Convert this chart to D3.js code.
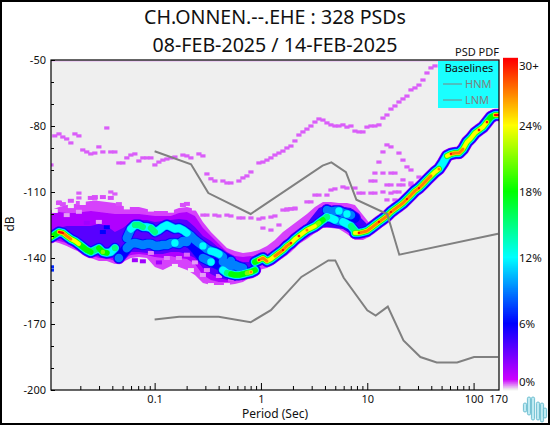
<!DOCTYPE html>
<html>
<head>
<meta charset="utf-8">
<script src="https://cdn.jsdelivr.net/npm/d3@7"></script>
<style>
html,body{margin:0;padding:0;background:#fff;overflow:hidden}
svg{display:block}
text{font-family:"Noto Sans",sans-serif;fill:#111}
</style>
</head>
<body>
<svg id="c" width="550" height="425"></svg>
<script>
const titleLines = ["CH.ONNEN.--.EHE : 328 PSDs", "08-FEB-2025 / 14-FEB-2025"];
const majorPeriods = [0.1, 1, 10, 100, 170];
const minorPeriods = [0.02,0.03,0.04,0.05,0.06,0.07,0.08,0.09,0.2,0.3,0.4,0.5,0.6,0.7,0.8,0.9,2,3,4,5,6,7,8,9,20,30,40,50,60,70,80,90];
const majorDb = [-50,-80,-110,-140,-170,-200];
const minorDb = [-60,-70,-90,-100,-120,-130,-150,-160,-180,-190];
const barTicks = [0,6,12,18,24,30];
const barTickLabels = ["0%","6%","12%","18%","24%","30+"];

// noise models
const hnmPeriod = [0.1,0.22,0.32,0.8,3.8,4.6,6.3,7.9,15.4,20,170];
const hnmDb = [-91.5,-97.4,-110.5,-120,-98,-96.5,-101,-113.5,-120,-138.5,-129];
const lnmPeriod = [0.1,0.17,0.4,0.8,1.24,2.4,4.3,5,6,10,12,15.6,21.9,31.6,45,70,101,170];
const lnmDb = [-168,-166.7,-166.7,-169.2,-163.7,-148.6,-141.1,-141.1,-149,-163.8,-166.2,-162.1,-177.5,-185,-187.5,-187.5,-185,-185];

// period bins of the PDF
const periodBins = [
0.0106,0.0115,0.0126,0.0137,0.0149,0.0163,0.0178,0.0194,0.0211,0.0230,
0.0251,0.0274,0.0299,0.0326,0.0355,0.0387,0.0423,0.0461,0.0503,0.0548,
0.0598,0.0652,0.0711,0.0775,0.0846,0.0923,0.1006,0.1097,0.1196,0.1304,
0.1423,0.1552,0.1692,0.1845,0.2012,0.2194,0.2393,0.2610,0.2846,0.3104,
0.3385,0.3691,0.4025,0.4389,0.4787,0.5220,0.5693,0.6208,0.6770,0.7383,
0.8051,0.8780,0.9574,1.044,1.139,1.242,1.354,1.477,1.610,1.756,
1.915,2.088,2.277,2.483,2.708,2.953,3.221,3.512,3.830,4.177,
4.555,4.967,5.417,5.907,6.442,7.025,7.661,8.354,9.110,9.935,
10.83,11.81,12.88,14.05,15.32,16.71,18.22,19.87,21.67,23.63,
25.77,28.10,30.64,33.41,36.44,39.74,43.34,47.26,51.54,56.20,
61.29,66.84,72.89,79.49,86.68,94.53,103.1,112.4,122.6,133.7,
145.8,159.0,173.4];

// sparse low-probability hits: bin index and dB
const speckBin = [0,1,2,3,4,5,6,7,8,9,10,11,12,13,15,16,14,17,18,19,20,21,22,23,24,25,26,27,28,29,30,31,33,34,35,37,38,
39,40,41,43,44,45,47,48,49,50,52,53,54,55,56,57,58,59,60,61,62,63,64,65,66,67,68,69,70,71,72,73,74,75,76,77,78,79,80,81,82,83,84,85,86,87,88,89,90,91,92,93,94,95,96,
84,85,83,87,82,88,89,90,92,81,83,85,86,80,81,84,85,87,88,90,
77,78,80,81,70,71,73,74,76,66,67,69,83,85,86,87,84,86,64,65,59,60,61,88,90,
38,39,41,42,44,45,47,48,50,52,53,55,56,53,55,57,58,59,60,61,
7,7,15,16,11,2];
const speckDb = [-97.7,-84.5,-83.6,-85,-85.9,-87.7,-83.6,-84.5,-90.9,-91.8,-92.7,-92.3,-89.5,-91.8,-91.8,-91.8,-80.9,-96.8,-96.8,-94.5,-93.2,-92.7,-95.9,-94.5,-94.5,-94.5,-97.7,-96.4,-95.5,-95,-94.5,-94.1,-93.2,-93.6,-94.5,-92.7,-93.6,
-101.8,-104,-105,-105,-105.9,-105.9,-105,-103.6,-102.7,-100.9,-96.8,-96.4,-95.5,-94.5,-93.2,-92.3,-91.4,-90,-89.1,-86.8,-84.1,-82.7,-81.4,-80,-78.2,-76.8,-77.3,-78.6,-79.5,-80,-80,-79.5,-80.5,-80,-82.3,-82.7,-82.7,-80.5,-80,-80,-79.5,-76.4,-75,-72.3,-70.9,-69.1,-67.7,-66.4,-63.6,-62.7,-61.4,-59.1,-55.9,-53.6,-52.7,
-88.6,-89.5,-91.8,-92.3,-96.4,-95.5,-98.6,-100,-103.2,-101.4,-101.4,-101.4,-101.4,-105,-105,-106.8,-106.8,-106.8,-106.8,-106.8,
-110.5,-110.5,-110.5,-110.5,-109.1,-108.6,-107.7,-108.2,-108.2,-111.4,-111.4,-111.4,-110,-110.5,-110,-110,-113.6,-113.6,-114.5,-114.5,-117.7,-117.7,-117.3,-104.5,-105.9,
-120.5,-120.5,-120.5,-120.9,-120.5,-120.9,-121.8,-121.8,-121.8,-122.3,-121.8,-121.4,-120.9,-126.4,-127.3,-125,-118.2,-118.2,-117.7,-117.7,
-110.5,-112.7,-110,-110.9,-113.2,-114.5];
const edgeBin = [0,0];
const edgeDb = [-144,-145.5];

// PDF envelopes: bins, upper dB, lower dB
const outerBins = [0,2,4,6,8,10,12,14,16,18,20,22,24,26,28,30,32,34,36,38,40,42,44,46,48,50,52,54,56,58,60,62,64,66,68,70,72,74,76,78,80];
const outerTop = [-118.2,-116.8,-115.9,-115.5,-114.5,-114.1,-114.1,-114.5,-115,-116.4,-116.8,-116.8,-117.7,-118.6,-118.6,-118.6,-117.3,-116.8,-117.7,-123.6,-128.2,-131.8,-135.5,-136.8,-137.7,-137.3,-136.4,-134.5,-131.8,-128.2,-125.5,-122.7,-120,-116.8,-114.5,-114.5,-115,-115,-115.9,-120.5,-125];
const outerBottom = [-132.3,-133.2,-134.5,-136.4,-137.7,-140,-141.4,-141.4,-142.7,-141.8,-140,-139.5,-140,-144.1,-145.5,-143.6,-144.1,-145.5,-147.7,-151.4,-152.3,-152.3,-152.3,-151.8,-150.9,-148.6,-145.5,-144.5,-141.8,-140,-137.3,-133.6,-131.4,-128.6,-126.4,-126.4,-126.8,-129.1,-131.8,-131.8,-130];
const outerPct = 0.65;

const purpleBins = [0,2,4,6,8,10,12,14,16,18,20,22,24,26,28,30,32,34,36,38,40,42,44,46,48,50,52];
const purpleTop = [-120,-119.1,-119.5,-119.5,-119.1,-118.6,-119.1,-119.5,-120,-120,-120,-120,-120.5,-120.9,-120.9,-120.9,-119.5,-119.1,-120.9,-126.4,-130,-133.6,-137.3,-139.1,-139.5,-139.1,-140];
const purpleBottom = [-131.8,-132.3,-133.2,-135,-136.4,-138.6,-140,-140,-141.4,-140.5,-138.6,-138.2,-138.6,-139.5,-140,-139.1,-140,-140.5,-142.7,-147.7,-150,-150.9,-150.9,-150.5,-149.5,-147.7,-143.6];
const purplePct = 1.6;

const blueBins = [2,4,6,8,10,12,14,16,18,20,22,24,26,28,30,32,34,36,38,40,42,44,46,48,50];
const blueTop = [-126.4,-125.5,-125.5,-125.5,-125.5,-124.5,-125.5,-128.2,-126.4,-123.6,-122.7,-122.7,-123.6,-123.2,-122.7,-122.3,-122.7,-125.9,-130,-132.3,-135.5,-140,-140.9,-141.8,-141.8];
const blueBottom = [-130.9,-132.3,-134.1,-135.9,-138.2,-139.1,-139.5,-140,-139.1,-137.3,-137.3,-137.7,-138.2,-138.2,-137.3,-137.3,-138.2,-140,-144.5,-147.3,-149.1,-150,-150,-149.1,-147.3];
const bluePct = 3.8;

const blobBins = [63,65,67,69,71,73,75,77,79];
const blobTop = [-126.4,-121.8,-117.3,-115.9,-116.8,-116.8,-117.3,-120.9,-124.5];
const blobBottom = [-130,-128.2,-126.4,-125.9,-126.4,-126.8,-129.1,-130.9,-130];
const blobPct = 4.5;

// mottling inside the envelopes: bin, dB, percent
const patchBin = [12,4,7,2,3,5,7,10,11,13,15,17,33,34,1,5,8,19,25,30,36,31,35,40,44,25,29,32,36,34,39,38,42,13,14,9,21,27,23,45,47];
const patchDb = [-123.6,-120.5,-119,-115,-115.5,-114,-115,-112.7,-112.3,-112.3,-112.7,-115.5,-115.9,-115.4,-118.6,-116.4,-115,-117,-118,-118.5,-117.5,-143.6,-145.5,-152.3,-152.3,-137.7,-140,-140,-142,-138.5,-145.5,-147.7,-148.2,-128.2,-126,-124,-141,-142,-141.5,-149.8,-149.4];
const patchPct = [0.3,0.3,0.3,0.6,0.6,0.6,0.6,0.6,0.6,0.6,0.6,0.6,0.6,0.6,0,0,0,0,0,0,0,0,0,0,0,0.4,0.4,0.4,0.3,0.5,0.4,0.3,0.4,6,6,2,2,2,2,0.6,0.6];

// ridges of the PDF: first bin, dB per bin, peak percent per bin
const ridgeAStart = 0;
const ridgeADb = [-130.5,-129.5,-128.2,-128.6,-130,-131.4,-132.3,-133.6,-135,-136.4,-137.3,-136.4,-135.5,-137.3,-137.7,-137.3,-135.5];
const ridgeAPct = [26,18,30,30,28,28,24,24,18,19,18,15,18,22,19,14,15];
const ridgeBStart = 19;
const ridgeBDb = [-130.9,-126.8,-125,-125,-125.9,-125.9,-126.4,-128.2,-127.3,-125.9,-125,-125.9,-126.8,-126.4,-127.3,-128.6,-130,-131.8,-133.2,-134.5,-135.9,-136.8,-137.3,-138.2,-139.5,-140.5,-141.4];
const ridgeBPct = [9,12,15,15,16,14,15,16,13,12,14,13,12,13,12,12,9,9,11,13,11,13,14,13,9,8,9];
const ridgeCStart = 17;
const ridgeCDb = [-140,-137.7,-135.5,-133.6,-133.2,-133.6,-134.1,-133.6,-133.6,-134.5,-134.5,-134.1,-134.1,-133.2,-133.2,-133.6,-132.3,-132.7,-133.6,-135.5,-137.7,-140,-140.9,-141.8,-142.3,-143.2];
const ridgeCPct = [9,8,9,10,11,10,11,10,11,9,9,11,11,11,12,11,10,9,8,8,8,9,11,12,8,8];
const ridgeD2Start = 43;
const ridgeD2Db = [-141.8,-142.7,-143.6,-143.2,-144.1,-144.5];
const ridgeD2Pct = [10,9,10,10,10,9];
const ridgeDStart = 43;
const ridgeDDb = [-145.5,-146.8,-147.3,-147.7,-147.7,-147.3,-146.8,-146.4,-145.5];
const ridgeDPct = [12,17,18,18,18,19,22,28,20];
const ridgeF2Start = 69;
const ridgeF2Db = [-118.2,-119.1,-118.6,-118.6,-119.5,-120,-120.5,-121.8];
const ridgeF2Pct = [9,10,11,12,11,12,10,8];
const ridgeFStart = 69;
const ridgeFDb = [-121.4,-121.8,-122.7,-123.2,-123.6,-124.5,-125.5,-127.7];
const ridgeFPct = [15,14,12,11,13,14,16,17];
const ridgeEStart = 51;
const ridgeEDb = [-141.8,-140.9,-140,-141.4,-140.5,-139.1,-137.7,-136.4,-134.5,-133.2,-131.4,-130,-128.6,-127.3,-126.4,-125.5,-124.1,-122.7,-121.4];
const ridgeEPct = [20,30,28,28,26,28,28,30,28,30,26,30,25,28,24,24,22,20,17];
const ridgeGStart = 76;
const ridgeGDb = [-128.6,-128.6,-128.2,-127.7,-126.4,-125,-123.6,-122.3,-120.9,-119.1,-117.7,-116.4,-115,-113.2,-111.4,-109.5,-108.2,-106.4,-104.5,-102.7,-100.9,-99.5,-96.8,-93.6,-92.7,-92.3,-92.3,-90.5,-87.3,-85.5,-83.2,-81.8,-80.5,-78.2,-75.9,-75,-75];
const ridgeGPct = [24,30,29,29,28,28,30,28,28,30,28,27,28,30,28,29,30,28,29,29,26,28,14,24,30,27,28,27,25,26,25,30,24,30,20,30,30];

const levels = [0.65,1.6,3.8,4.5,6,9,12,15,18,21,24,27,30];
const legendItems = ["HNM","LNM"];
const logoTop = [403,397,397,402,403,408];
const logoBottom = [412,415,420,420,422,418];
const logoX = [525,529,533,538,542,545];

/* ---------- drawing ---------- */
const W=550,H=425,L=51,R=499,T=60,B=390;
const svg=d3.select("#c");
const x=d3.scaleLog().domain([periodBins[0],periodBins[112]]).range([L,R]);
const y=d3.scaleLinear().domain([-50,-200]).range([T,B]);
const pctColor=d3.scaleLinear().domain([0,0.9,6,12,18,24,30])
  .range(["#efefef","#cc00ff","#0000ff","#00ffff","#00ff00","#ffff00","#ff0000"]).clamp(true);
const barY=d3.scaleLinear().domain([0,30]).range([B,T]);
const widthFor=d3.scaleOrdinal().domain(levels).range([12.5,12,11.5,11,10,8.6,7.4,6.2,5.5,4.6,3.8,3,2.2]);

svg.append("rect").attr("width",W).attr("height",H).attr("fill","#fff");
const defs=svg.append("defs");
defs.append("clipPath").attr("id","plot").append("rect").attr("x",L).attr("y",T).attr("width",R-L).attr("height",B-T);
defs.append("filter").attr("id","soft").attr("x","-5%").attr("y","-5%").attr("width","110%").attr("height","110%")
  .append("feGaussianBlur").attr("stdDeviation",0.7);

svg.append("rect").attr("x",L).attr("y",T).attr("width",R-L).attr("height",B-T).attr("fill","#efefef");

const plot=svg.append("g").attr("clip-path","url(#plot)");
plot.append("line").attr("x1",L).attr("x2",R).attr("y1",y(-50.5)).attr("y2",y(-50.5)).attr("stroke","#e6b8f2").attr("stroke-width",1);
const heat=plot.append("g").attr("filter","url(#soft)");

// sparse hits
heat.selectAll("rect.s").data(speckBin.map((b,i)=>({b,d:speckDb[i]}))).join("rect").attr("class","s")
  .attr("x",d=>x(periodBins[d.b])-2.6).attr("y",d=>y(d.d)-1.6).attr("width",5.2).attr("height",3.2)
  .attr("fill",pctColor(0.55));
heat.selectAll("rect.e").data(edgeBin.map((b,i)=>({b,d:edgeDb[i]}))).join("rect").attr("class","e")
  .attr("x",d=>x(periodBins[d.b])).attr("y",d=>y(d.d)-1.5).attr("width",3).attr("height",3)
  .attr("fill",pctColor(7));

const bands=[
 {pct:outerPct,bins:outerBins,top:outerTop,bot:outerBottom},
 {pct:purplePct,bins:purpleBins,top:purpleTop,bot:purpleBottom},
 {pct:bluePct,bins:blueBins,top:blueTop,bot:blueBottom},
 {pct:blobPct,bins:blobBins,top:blobTop,bot:blobBottom}
];
const ridges=[
 [ridgeAStart,ridgeADb,ridgeAPct],[ridgeCStart,ridgeCDb,ridgeCPct],[ridgeBStart,ridgeBDb,ridgeBPct],
 [ridgeD2Start,ridgeD2Db,ridgeD2Pct],[ridgeDStart,ridgeDDb,ridgeDPct],[ridgeF2Start,ridgeF2Db,ridgeF2Pct],
 [ridgeFStart,ridgeFDb,ridgeFPct],[ridgeEStart,ridgeEDb,ridgeEPct],[ridgeGStart,ridgeGDb,ridgeGPct]
].map(([s,db,p])=>db.map((d,i)=>({bin:s+i,db:d,pct:p[i]})));

const area=d3.area().x(d=>x(periodBins[d.b])).y0(d=>y(d.t)).y1(d=>y(d.u));
const line=d3.line().x(d=>x(periodBins[d.bin])).y(d=>y(d.db));

levels.forEach(lv=>{
  bands.filter(b=>b.pct===lv).forEach(b=>{
    heat.append("path").attr("d",area(b.bins.map((v,i)=>({b:v,t:b.top[i],u:b.bot[i]}))))
      .attr("fill",pctColor(lv));
  });
  ridges.forEach(r=>{
    heat.append("path").attr("d",line.defined(d=>d.pct>=lv)(r))
      .attr("fill","none").attr("stroke",pctColor(lv)).attr("stroke-width",widthFor(lv))
      .attr("stroke-linecap","round").attr("stroke-linejoin","round");
  });
  if(lv===bluePct){
    heat.selectAll("rect.p").data(patchBin.map((b,i)=>({b,d:patchDb[i],p:patchPct[i]}))).join("rect").attr("class","p")
      .attr("x",d=>x(periodBins[d.b])-3).attr("y",d=>y(d.d)-2).attr("width",6).attr("height",4)
      .attr("fill",d=>pctColor(d.p));
  }
});

// noise models
const modelLine=d3.line().x(d=>x(d[0])).y(d=>y(d[1]));
[[hnmPeriod,hnmDb],[lnmPeriod,lnmDb]].forEach(([p,d])=>{
  plot.append("path").attr("d",modelLine(p.map((v,i)=>[v,d[i]])))
    .attr("fill","none").attr("stroke","#808080").attr("stroke-width",2);
});

// legend
const lg=svg.append("g");
lg.append("rect").attr("x",438).attr("y",61).attr("width",61).attr("height",47).attr("fill","#1affff");
lg.append("text").attr("x",469).attr("y",72).attr("text-anchor","middle").attr("font-size",11).text("Baselines");
legendItems.forEach((t,i)=>{
  const ly=84+i*16;
  lg.append("line").attr("x1",443).attr("x2",462).attr("y1",ly).attr("y2",ly).attr("stroke","#808080").attr("stroke-width",1);
  lg.append("text").attr("x",465).attr("y",ly+4).attr("font-size",11).style("fill","#808080").text(t);
});

// frame
svg.append("rect").attr("x",L).attr("y",T).attr("width",R-L).attr("height",B-T).attr("fill","none").attr("stroke","#000").attr("stroke-width",1.2);

// axes
const xAxis=d3.axisBottom(x).tickValues(majorPeriods).tickSize(-7).tickPadding(6).tickFormat(d=>String(d));
const gx=svg.append("g").attr("transform",`translate(0,${B})`).call(xAxis);
gx.select(".domain").remove();
gx.selectAll(".tick").filter(d=>d===170).select("line").remove();
gx.selectAll("text").attr("font-size",11).style("font-family",'"Noto Sans",sans-serif').attr("dy","0.9em").attr("y",3);
const gxm=svg.append("g").attr("transform",`translate(0,${B})`).call(d3.axisBottom(x).tickValues(minorPeriods).tickSize(-4).tickFormat(""));
gxm.select(".domain").remove();

const gy=svg.append("g").attr("transform",`translate(${L},0)`).call(d3.axisLeft(y).tickValues(majorDb).tickSize(-4).tickPadding(5).tickFormat(d=>String(d)));
gy.select(".domain").remove();
gy.selectAll("text").attr("font-size",11).style("font-family",'"Noto Sans",sans-serif');
const gym=svg.append("g").attr("transform",`translate(${L},0)`).call(d3.axisLeft(y).tickValues(minorDb).tickSize(-3).tickFormat(""));
gym.select(".domain").remove();

// titles
titleLines.forEach((t,i)=>svg.append("text").attr("x",275).attr("y",24+i*28).attr("text-anchor","middle").attr("font-size",19.6).text(t));
svg.append("text").attr("x",275).attr("y",418).attr("text-anchor","middle").attr("font-size",12).text("Period (Sec)");
svg.append("text").attr("transform","translate(14,224) rotate(-90)").attr("text-anchor","middle").attr("font-size",12).text("dB");
svg.append("text").attr("x",477).attr("y",56).attr("text-anchor","middle").attr("font-size",11).text("PSD PDF");

// colour bar
svg.append("g").selectAll("rect").data(d3.range(0,30.01,30/165)).join("rect")
  .attr("x",503).attr("width",15).attr("y",d=>barY(d)-2.2).attr("height",2.6).attr("fill",d=>pctColor(d));
barTicks.forEach((v,i)=>{
  const off=v===30?6:(v===0?-8:0);
  svg.append("text").attr("x",519).attr("y",barY(v)+off+4).attr("font-size",11.5).text(barTickLabels[i]);
});

// logo
svg.append("g").selectAll("rect").data(logoX).join("rect")
  .attr("x",d=>d-1.6).attr("width",3.2).attr("rx",1.5)
  .attr("y",(d,i)=>logoTop[i]).attr("height",(d,i)=>logoBottom[i]-logoTop[i])
  .attr("fill","#bfeaf2").attr("stroke","#58b4c8").attr("stroke-width",0.8);

// outer border
svg.append("rect").attr("x",1).attr("y",1).attr("width",W-2).attr("height",H-2).attr("fill","none").attr("stroke","#000").attr("stroke-width",2);
</script>
</body>
</html>
